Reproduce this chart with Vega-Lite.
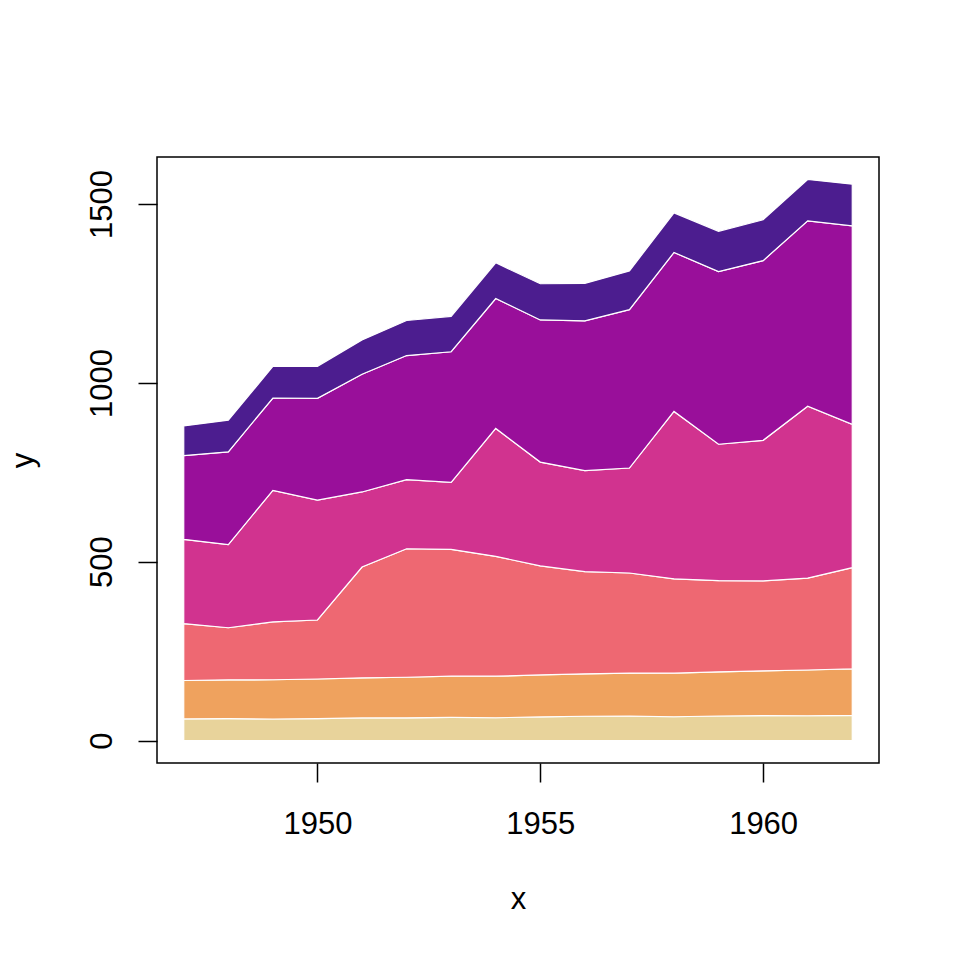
{
  "$schema": "https://vega.github.io/schema/vega-lite/v6.json",
  "width": 722,
  "height": 606,
  "autosize": {"type": "none"},
  "padding": {"left": 157, "top": 157, "right": 81, "bottom": 197},
  "background": "white",
  "config": {
    "font": "Liberation Sans",
    "view": {"stroke": "black", "strokeWidth": 1.5},
    "axis": {"grid": false, "domain": false, "tickColor": "black", "tickWidth": 1.5, "tickSize": 19, "labelFontSize": 31, "labelColor": "black", "titleFontSize": 31, "titleFontWeight": "normal", "titleColor": "black", "labelFont": "Liberation Sans", "titleFont": "Liberation Sans"}
  },
  "datasets": {
    "longley": [
      {"year": 1947, "defl": 83.0, "gnp": 234.289, "unemp": 235.6, "armed": 159.0, "pop": 107.608, "emp": 60.323},
      {"year": 1948, "defl": 88.5, "gnp": 259.426, "unemp": 232.5, "armed": 145.6, "pop": 108.632, "emp": 61.122},
      {"year": 1949, "defl": 88.2, "gnp": 258.054, "unemp": 368.2, "armed": 161.6, "pop": 109.773, "emp": 60.171},
      {"year": 1950, "defl": 89.5, "gnp": 284.599, "unemp": 335.1, "armed": 165.0, "pop": 110.929, "emp": 61.187},
      {"year": 1951, "defl": 96.2, "gnp": 328.975, "unemp": 209.9, "armed": 309.9, "pop": 112.075, "emp": 63.221},
      {"year": 1952, "defl": 98.1, "gnp": 346.999, "unemp": 193.2, "armed": 359.4, "pop": 113.270, "emp": 63.639},
      {"year": 1953, "defl": 99.0, "gnp": 365.385, "unemp": 187.0, "armed": 354.7, "pop": 115.094, "emp": 64.989},
      {"year": 1954, "defl": 100.0, "gnp": 363.112, "unemp": 357.8, "armed": 335.0, "pop": 116.219, "emp": 63.761},
      {"year": 1955, "defl": 101.2, "gnp": 397.469, "unemp": 290.4, "armed": 304.8, "pop": 117.388, "emp": 66.019},
      {"year": 1956, "defl": 104.6, "gnp": 419.180, "unemp": 282.2, "armed": 285.7, "pop": 118.734, "emp": 67.857},
      {"year": 1957, "defl": 108.4, "gnp": 442.769, "unemp": 293.6, "armed": 279.8, "pop": 120.445, "emp": 68.169},
      {"year": 1958, "defl": 110.8, "gnp": 444.546, "unemp": 468.1, "armed": 263.7, "pop": 121.950, "emp": 66.513},
      {"year": 1959, "defl": 112.6, "gnp": 482.704, "unemp": 381.3, "armed": 255.2, "pop": 123.366, "emp": 68.655},
      {"year": 1960, "defl": 114.2, "gnp": 502.601, "unemp": 393.1, "armed": 251.4, "pop": 125.368, "emp": 69.564},
      {"year": 1961, "defl": 115.7, "gnp": 518.173, "unemp": 480.6, "armed": 257.2, "pop": 127.852, "emp": 69.331},
      {"year": 1962, "defl": 116.9, "gnp": 554.894, "unemp": 400.7, "armed": 282.7, "pop": 130.081, "emp": 70.551}
    ]
  },
  "data": {"name": "longley"},
  "transform": [
    {"fold": ["emp", "pop", "armed", "unemp", "gnp", "defl"], "as": ["series", "value"]},
    {"lookup": "series", "from": {"data": {"values": [
      {"series": "emp", "ord": 1},
      {"series": "pop", "ord": 2},
      {"series": "armed", "ord": 3},
      {"series": "unemp", "ord": 4},
      {"series": "gnp", "ord": 5},
      {"series": "defl", "ord": 6}
    ]}, "key": "series", "fields": ["ord"]}}
  ],
  "mark": {"type": "area", "stroke": "white", "strokeWidth": 1.2, "opacity": 1, "fillOpacity": 1},
  "encoding": {
    "x": {"field": "year", "type": "quantitative", "scale": {"domain": [1946.4, 1962.6], "nice": false, "zero": false},
      "axis": {"values": [1950, 1955, 1960], "title": "x", "labelPadding": 27, "titlePadding": 45, "format": "d", "labelFlush": false}},
    "y": {"field": "value", "type": "quantitative", "stack": "zero", "scale": {"domain": [-62.8, 1631.7], "nice": false, "zero": false},
      "axis": {"values": [0, 500, 1000, 1500], "title": "y", "format": "d", "labelAngle": 270, "labelAlign": "center", "labelBaseline": "bottom", "labelPadding": 20, "titlePadding": 47, "labelFlush": false}},
    "color": {"field": "series", "type": "nominal", "legend": null,
      "scale": {"domain": ["emp", "pop", "armed", "unemp", "gnp", "defl"], "range": ["#E8D39B", "#EFA25E", "#EE6872", "#D1338F", "#990F9A", "#4C1D8F"]}},
    "order": {"field": "ord", "type": "quantitative"}
  }
}
